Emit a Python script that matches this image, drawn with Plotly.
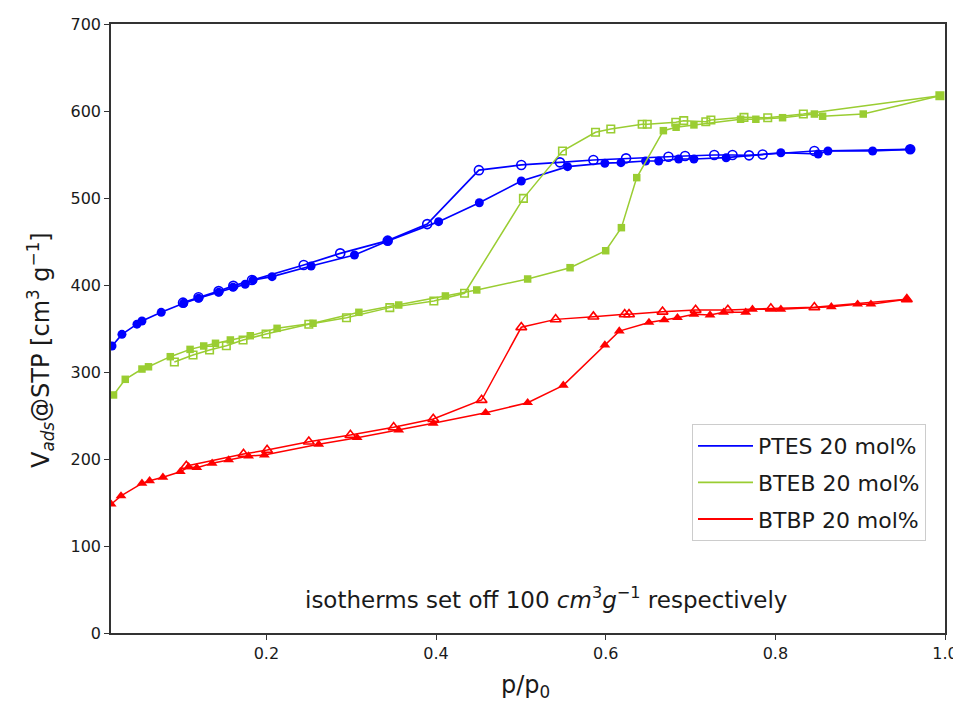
import plotly.graph_objects as go

# PTES 20 mol% (blue)
ptes_ads_x = [0.018, 0.0297, 0.0474, 0.0533, 0.076, 0.1024, 0.120, 0.1437, 0.1607, 0.175, 0.1843, 0.2067,
              0.2527, 0.3038, 0.3431, 0.403, 0.451, 0.5005, 0.555, 0.599, 0.618, 0.647, 0.6625, 0.686, 0.704,
              0.742, 0.8065, 0.8505, 0.862, 0.9147, 0.959]
ptes_ads_y = [329.9, 343.3, 355, 358.6, 368.6, 379, 384.7, 391.6, 397.4, 400.8, 405.7, 409.6,
              421.8, 434.5, 450.6, 472.8, 494.6, 519.5, 536, 540, 540.6, 542.5, 542.5, 544.8, 544.8,
              546.3, 552, 550.6, 554, 554, 556]
ptes_des_x = [0.959, 0.846, 0.785, 0.769, 0.7495, 0.728, 0.6936, 0.674, 0.624, 0.5855, 0.546, 0.5005,
              0.4505, 0.3896, 0.343, 0.287, 0.244, 0.183, 0.161, 0.1437, 0.12, 0.1017]
ptes_des_y = [556, 554, 550, 549, 549.4, 549.4, 548.3, 547.5, 545.6, 543.7, 541, 538,
              532, 470, 451, 436.4, 423, 405.7, 399, 393, 386, 379.7]

# BTEB 20 mol% (green)
bteb_ads_x = [0.0198, 0.0336, 0.0533, 0.061, 0.0867, 0.110, 0.1261, 0.140, 0.1575, 0.181, 0.2126, 0.255,
              0.309, 0.356, 0.411, 0.448, 0.508, 0.558, 0.600, 0.6185, 0.6366, 0.668, 0.683, 0.704,
              0.759, 0.777, 0.8085, 0.846, 0.8557, 0.9036, 0.994]
bteb_ads_y = [273.6, 291.6, 303.4, 306, 317.6, 326, 329.9, 333, 336.8, 341.7, 350.2, 356,
              368.6, 377, 387.4, 394.3, 406.9, 419.9, 439.4, 465.9, 523.4, 577.4, 581.3, 584,
              590.5, 590.5, 592.3, 596.5, 594, 596.5, 617.6]
bteb_des_x = [0.994, 0.833, 0.791, 0.763, 0.724, 0.718, 0.692, 0.6826, 0.649, 0.643, 0.606, 0.588,
              0.549, 0.503, 0.4336, 0.3974, 0.3455, 0.2944, 0.25, 0.1996, 0.1725, 0.1528, 0.133,
              0.1135, 0.0915]
bteb_des_y = [617.6, 596.5, 592.3, 592.7, 589.7, 587.7, 588.9, 587, 584.7, 584.7, 579.3, 575.5,
              554, 499.6, 390.5, 381.6, 374, 362.4, 354.8, 343.7, 336.8, 330.2, 325.3,
              319.5, 311.5]

# BTBP 20 mol% (red)
btbp_ads_x = [0.017, 0.0286, 0.0533, 0.0623, 0.078, 0.0985, 0.1083, 0.118, 0.136, 0.1555, 0.179, 0.1976,
              0.2617, 0.307, 0.356, 0.3967, 0.4584, 0.508, 0.550, 0.599, 0.616, 0.651, 0.669, 0.6846,
              0.704, 0.723, 0.739, 0.765, 0.773, 0.8065, 0.866, 0.897, 0.9127, 0.955]
btbp_ads_y = [148, 157.5, 172, 175, 179, 185.4, 191, 190, 195, 198.9, 203.4, 204.6,
              216.9, 224.5, 233.3, 241, 253.2, 264.7, 284.7, 331, 347, 357, 359.8, 362.4,
              366.3, 365.5, 368.6, 368.6, 372, 372, 375, 378, 378, 383.6]
btbp_des_x = [0.955, 0.846, 0.7947, 0.744, 0.706, 0.667, 0.6275, 0.6224, 0.5855, 0.541, 0.5005,
              0.4537, 0.3967, 0.350, 0.299, 0.25, 0.2008, 0.173, 0.1056]
btbp_des_y = [383.6, 374.4, 373, 371.3, 371.3, 369.3, 366.3, 366.3, 363.6, 360.5, 351.4,
              267.8, 246, 236.4, 227.6, 219.9, 210.3, 205.7, 192]

series_names = ["PTES 20 mol%", "BTEB 20 mol%", "BTBP 20 mol%"]
x_ticks = [0.2, 0.4, 0.6, 0.8, 1.0]
x_tick_text = ["0.2", "0.4", "0.6", "0.8", "1.0"]
y_ticks = [0, 100, 200, 300, 400, 500, 600, 700]

BLUE = "#0000ff"
GREEN = "#9acd32"
RED = "#ff0000"
FONT = "DejaVu Sans"
TXT = "#1a1a1a"

fig = go.Figure()

def add_pair(ax, ay, dx, dy, color, symbol, size, lw):
    fig.add_trace(go.Scatter(x=ax, y=ay, mode="lines+markers", showlegend=False,
                             line=dict(color=color, width=lw),
                             marker=dict(symbol=symbol, size=size, color=color)))
    fig.add_trace(go.Scatter(x=dx, y=dy, mode="lines+markers", showlegend=False,
                             line=dict(color=color, width=lw),
                             marker=dict(symbol=symbol + "-open", size=size, color=color,
                                         line=dict(width=1.6, color=color))))

add_pair(ptes_ads_x, ptes_ads_y, ptes_des_x, ptes_des_y, BLUE, "circle", 9, 1.7)
add_pair(bteb_ads_x, bteb_ads_y, bteb_des_x, bteb_des_y, GREEN, "square", 7.5, 1.5)
add_pair(btbp_ads_x, btbp_ads_y, btbp_des_x, btbp_des_y, RED, "triangle-up", 9.5, 1.5)

for i, (name, color) in enumerate(zip(series_names, [BLUE, GREEN, RED])):
    fig.add_trace(go.Scatter(x=[None], y=[None], mode="lines", name=name, legendgroup=f"g{i}",
                             line=dict(color=color, width=1.8)))

axis_common = dict(showline=True, linecolor="#333333", linewidth=1.6, mirror=True,
                   ticks="outside", ticklen=5, tickwidth=1.2, tickcolor="#333333",
                   showgrid=False, zeroline=False, automargin=False,
                   tickfont=dict(family=FONT, size=16, color=TXT))

# The page body adds an 8 px offset; work in reference pixels and subtract it.
OFF = 8
W, H = 961 - OFF, 702 - OFF
PL, PT, PR, PB = 111, 24, 945, 633          # plot box in reference pixels
L, T = PL - OFF, PT - OFF
R, B = W - (PR - OFF), H - (PB - OFF)
PW, PH = PR - PL, PB - PT

def px(xr):
    return (xr - PL) / PW

def py(yr):
    return (PB - yr) / PH

fig.update_layout(
    width=W, height=H,
    margin=dict(l=L, r=R, t=T, b=B),
    plot_bgcolor="white", paper_bgcolor="white",
    font=dict(family=FONT, color=TXT),
    xaxis=dict(range=[0.0168, 1.0], tickvals=x_ticks, ticktext=x_tick_text, **axis_common),
    yaxis=dict(range=[0, 700], tickvals=y_ticks, **axis_common),
    legend=dict(x=px(926), y=py(424), xanchor="right", yanchor="top",
                bordercolor="#cccccc", borderwidth=1, bgcolor="white",
                font=dict(family=FONT, size=22, color=TXT), tracegroupgap=5, itemwidth=55),
    annotations=[
        dict(x=px(546), y=py(598), xref="paper", yref="paper", showarrow=False,
             xanchor="center", yanchor="middle",
             text="isotherms set off 100 <i>cm</i><sup>3</sup><i>g</i><sup>\u22121</sup> respectively",
             font=dict(family=FONT, size=23, color=TXT)),
        dict(x=px(40), y=py(350), xref="paper", yref="paper", showarrow=False,
             xanchor="center", yanchor="middle", textangle=-90,
             text="V<sub><i>ads</i></sub>@STP [cm<sup>3</sup> g<sup>\u22121</sup>]",
             font=dict(family=FONT, size=24, color=TXT)),
        dict(x=px(525), y=py(686), xref="paper", yref="paper", showarrow=False,
             xanchor="center", yanchor="middle",
             text="p/p<sub>0</sub>",
             font=dict(family=FONT, size=24, color=TXT)),
    ],
)

fig.write_html("out.html")
